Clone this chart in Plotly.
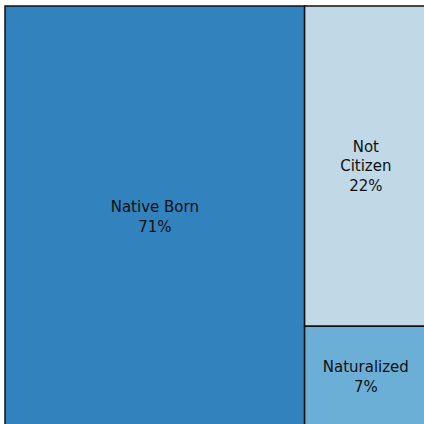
import plotly.graph_objects as go

labels = ["Native Born", "Not Citizen", "Naturalized"]
display_labels = ["Native Born", "Not<br>Citizen", "Naturalized"]
values = [71, 22, 7]
colors = ["#3182bd", "#c1d8e7", "#6baed6"]

fig = go.Figure(go.Treemap(
    labels=labels,
    parents=["", "", ""],
    values=values,
    text=display_labels,
    texttemplate="%{text}<br>%{percentRoot:.0%}",
    textposition="middle center",
    textfont=dict(family="DejaVu Sans", size=15, color="#111111"),
    marker=dict(colors=colors, line=dict(color="#111111", width=1.5),
                pad=dict(t=0, l=0, r=0, b=0)),
    pathbar=dict(visible=False),
    tiling=dict(packing="squarify", pad=0),
    sort=True,
    hoverinfo="label+value+percent root",
))

fig.update_layout(
    width=427, height=428,
    margin=dict(l=5, t=6, r=0, b=0),
    paper_bgcolor="white",
)

fig.write_html(
    "out.html",
    config={"displayModeBar": False},
    post_script="document.body.style.margin='0';document.body.style.overflow='hidden';",
)
